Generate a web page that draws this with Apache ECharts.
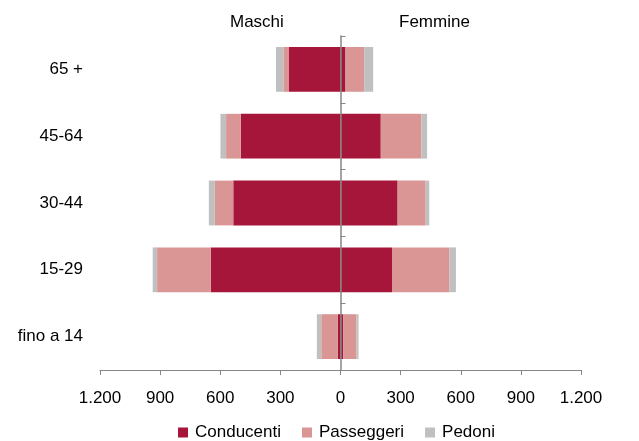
<!DOCTYPE html>
<html>
<head>
<meta charset="utf-8">
<script src="https://cdn.jsdelivr.net/npm/echarts@6/dist/echarts.min.js"></script>
<style>
  html, body { margin: 0; padding: 0; background: #fff; }
  #chart { width: 639px; height: 441px; }
</style>
</head>
<body>
<div id="chart"></div>
<script>
// Age groups, top to bottom
const ageGroups = ['65 +', '45-64', '30-44', '15-29', 'fino a 14'];

// Men (drawn to the left)
const maschiConducenti = [257, 498, 535, 647, 13];
const maschiPasseggeri = [28, 73, 92, 268, 83];
const maschiPedoni = [37, 28, 30, 22, 22];

// Women (drawn to the right)
const femmineConducenti = [25, 201, 285, 257, 13];
const femminePasseggeri = [93, 203, 140, 287, 67];
const femminePedoni = [45, 28, 18, 32, 10];

const xTicks = [-1200, -900, -600, -300, 0, 300, 600, 900, 1200];

const colors = { Conducenti: '#A6163A', Passeggeri: '#D99694', Pedoni: '#C0C0C0' };
const font = "'Liberation Sans', Arial, sans-serif";
const fs = 17;

function fmt(v) {
  return Math.abs(v).toString().replace(/\B(?=(\d{3})+(?!\d))/g, '.');
}

function bar(name, values, sign) {
  return {
    name: name,
    type: 'bar',
    stack: 'totale',
    yAxisIndex: 0,
    barCategoryGap: '33%',
    itemStyle: { color: colors[name] },
    emphasis: { disabled: true },
    data: values.map(v => sign * v)
  };
}

const chart = echarts.init(document.getElementById('chart'), null, { renderer: 'canvas' });
chart.setOption({
  animation: false,
  textStyle: { fontFamily: font },
  grid: { left: 100, right: 58, top: 36, bottom: 71 },
  graphic: [
    { type: 'text', left: 230, top: 14, style: { text: 'Maschi', font: fs + 'px ' + font, fill: '#000' } },
    { type: 'text', left: 399, top: 14, style: { text: 'Femmine', font: fs + 'px ' + font, fill: '#000' } }
  ],
  legend: {
    top: 424,
    left: 178,
    padding: 0,
    icon: 'rect',
    itemWidth: 10,
    itemHeight: 10,
    itemGap: 21,
    data: ['Conducenti', 'Passeggeri', 'Pedoni'],
    textStyle: { fontSize: fs, color: '#000', fontFamily: font, padding: [0, 0, 0, 2] }
  },
  xAxis: {
    type: 'value',
    min: xTicks[0],
    max: xTicks[xTicks.length - 1],
    interval: 300,
    splitLine: { show: false },
    axisLine: { show: true, lineStyle: { color: '#868686' } },
    axisTick: { show: true, length: 5, lineStyle: { color: '#868686' } },
    axisLabel: { fontSize: fs, color: '#000', margin: 20, formatter: fmt, fontFamily: font }
  },
  yAxis: [
    {
      type: 'category',
      inverse: true,
      data: ageGroups,
      axisLine: { show: false, onZero: false },
      axisTick: { show: false },
      axisLabel: { fontSize: fs, color: '#000', margin: 17, fontFamily: font }
    },
    {
      type: 'category',
      inverse: true,
      data: ageGroups,
      z: 10,
      axisLine: { show: true, onZero: true, lineStyle: { color: '#868686', width: 1.5 } },
      axisTick: { show: true, length: 5, lineStyle: { color: '#868686' } },
      axisLabel: { show: false }
    }
  ],
  series: [
    bar('Conducenti', maschiConducenti, -1),
    bar('Passeggeri', maschiPasseggeri, -1),
    bar('Pedoni', maschiPedoni, -1),
    bar('Conducenti', femmineConducenti, 1),
    bar('Passeggeri', femminePasseggeri, 1),
    bar('Pedoni', femminePedoni, 1)
  ]
});
</script>
</body>
</html>
